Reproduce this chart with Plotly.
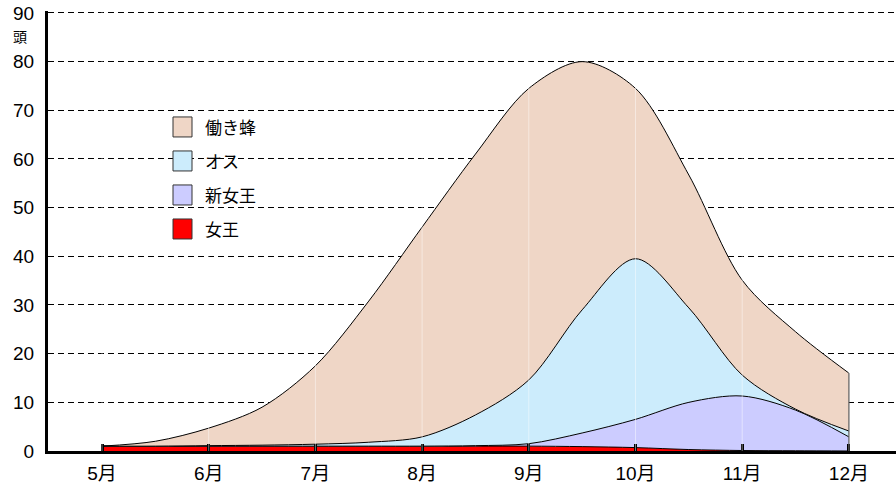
import plotly.graph_objects as go

# ---- data (half-month steps from May to December) ----
x_pos = [0, 0.5, 1, 1.5, 2, 2.5, 3, 3.5, 4, 4.5, 5, 5.5, 6, 6.5, 7]
month_vals = [0, 1, 2, 3, 4, 5, 6, 7]
month_labels = ["5月", "6月", "7月", "8月", "9月", "10月", "11月", "12月"]

queen = [1, 1, 1, 1, 1, 1, 1, 1, 1, 0.9, 0.7, 0.3, 0.1, 0.05, 0]
new_queen = [0, 0, 0, 0, 0, 0, 0, 0.1, 0.5, 2.8, 5.8, 9.7, 11.2, 8.35, 2.9]
males = [0, 0, 0.1, 0.2, 0.4, 0.8, 1.9, 6.3, 13.1, 25.3, 33.0, 19.4, 4.3, 0.2, 1.2]
workers = [0, 1.0, 3.6, 7.8, 16.1, 29.0, 43.1, 53.6, 59.9, 51.0, 35.0, 27.3, 19.5, 15.9, 11.9]

series_names = ["女王", "新女王", "オス", "働き蜂"]
series_colors = ["#FF0000", "#CCCCFF", "#CCECFC", "#EFD6C6"]
series_values = [queen, new_queen, males, workers]

y_ticks = [0, 10, 20, 30, 40, 50, 60, 70, 80, 90]
unit_text = "頭"

# ---- layout geometry (page pixels; body margin removed by post_script) ----
W, H = 896, 486
L, R, Y90, B = 48, 896, 13, 451
X0_PX, MONTH_PX = 102, 106.7
Y_MAX = 90.4
SCALE = (B - Y90) / 90.0
T = B - Y_MAX * SCALE


def px2x(px):
    return (px - L) / (R - L)


def py2y(py):
    return (B - py) / (B - T)


FONT = "Liberation Sans, Arial, Noto Sans CJK JP, sans-serif"

fig = go.Figure()
for name, col, vals in zip(series_names, series_colors, series_values):
    fig.add_trace(go.Scatter(
        x=x_pos, y=vals, name=name, stackgroup="one",
        mode="lines", line=dict(color="black", width=1, shape="spline", smoothing=0.9),
        fillcolor=col, showlegend=False, hoverinfo="skip",
    ))

# closing edge at December
total_last = sum(v[-1] for v in series_values)
fig.add_trace(go.Scatter(x=[x_pos[-1], x_pos[-1]], y=[0, total_last], mode="lines",
                         line=dict(color="black", width=1), showlegend=False, hoverinfo="skip"))

shapes = []
# faint month lines through the fill
for m in month_vals:
    shapes.append(dict(type="line", xref="x", yref="paper", x0=m, x1=m, y0=0, y1=1,
                       line=dict(color="rgba(255,255,255,0.45)", width=1), layer="above"))

annotations = []
# manual legend
leg_order = list(reversed(range(len(series_names))))
for i, k in enumerate(leg_order):
    top = 117 + i * 34
    shapes.append(dict(type="rect", xref="paper", yref="paper",
                       x0=px2x(173), x1=px2x(192), y0=py2y(top + 20), y1=py2y(top),
                       fillcolor=series_colors[k], line=dict(color="#333333", width=1)))
    annotations.append(dict(xref="paper", yref="paper", x=px2x(203), y=py2y(top + 10),
                            xanchor="left", yanchor="middle", showarrow=False,
                            text=series_names[k],
                            font=dict(family="Noto Sans CJK JP", size=17, color="black")))

annotations.append(dict(xref="paper", yref="paper", x=px2x(20), y=py2y(36),
                        xanchor="center", yanchor="middle", showarrow=False, text=unit_text,
                        font=dict(family="Noto Sans CJK JP", size=14, color="black")))

fig.update_layout(
    width=W, height=H,
    margin=dict(l=L, r=W - R, t=T, b=H - B, pad=0, autoexpand=False),
    paper_bgcolor="white", plot_bgcolor="white",
    font=dict(family=FONT, size=17, color="black"),
    shapes=shapes, annotations=annotations, showlegend=False,
    xaxis=dict(range=[(L - X0_PX) / MONTH_PX, (R - X0_PX) / MONTH_PX],
               tickvals=month_vals, ticktext=month_labels, automargin=False,
               showgrid=False, zeroline=False,
               showline=True, linecolor="black", linewidth=3,
               ticks="inside", ticklen=7, tickwidth=3, tickcolor="black",
               ticklabelstandoff=3, ticklabeloverflow="allow",
               tickfont=dict(size=19, family=FONT)),
    yaxis=dict(range=[0, Y_MAX], tickvals=y_ticks, automargin=False,
               showgrid=True, gridcolor="black", gridwidth=1, griddash="6px,4px",
               zeroline=False, showline=True, linecolor="black", linewidth=3,
               ticks="", ticklabelstandoff=7, ticklabeloverflow="allow",
               tickfont=dict(size=19, family=FONT)),
)

fig.write_html("out.html", config={"displayModeBar": False},
               post_script="document.body.style.margin='0';")
